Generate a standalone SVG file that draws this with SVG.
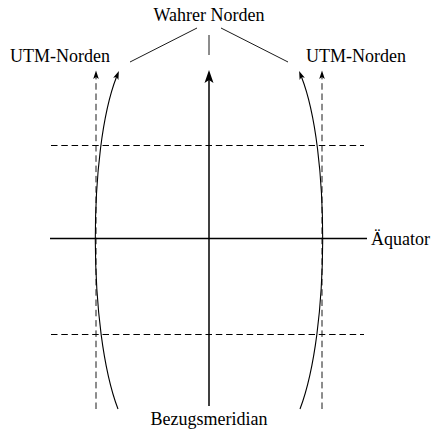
<svg xmlns="http://www.w3.org/2000/svg" width="437" height="434" viewBox="0 0 437 434">
<style>
text{font-family:"Liberation Serif","Times New Roman",serif;font-size:18px;fill:#000}
.thin{stroke:#000;stroke-width:0.9;fill:none}
.dash{stroke:#000;stroke-width:1;fill:none;stroke-dasharray:6.5 3.8}
.vdash{stroke:#000;stroke-width:0.9;fill:none;stroke-dasharray:6.5 3.8}
.curve{stroke:#000;stroke-width:1.1;fill:none}
.bold{stroke:#000;stroke-width:1.5;fill:none}
</style>
<defs>
<marker id="big" markerUnits="userSpaceOnUse" viewBox="0 -5 14 10" markerWidth="14" markerHeight="10" refX="3" refY="0" orient="auto">
<path d="M0,-4.5 L13,0 L0,4.5 L3,0 Z" fill="#000" stroke="none"/>
</marker>
<marker id="small" markerUnits="userSpaceOnUse" viewBox="0 -3 9 6" markerWidth="9" markerHeight="6" refX="2" refY="0" orient="auto">
<path d="M0,-2.8 L8.5,0 L0,2.8 L2,0 Z" fill="#000" stroke="none"/>
</marker>
</defs>
<g id="connectors">
<line class="dash" x1="51" y1="145.5" x2="364" y2="145.5"/>
<line class="dash" x1="51" y1="334.5" x2="364" y2="334.5"/>
<line class="bold" x1="50" y1="238.5" x2="367" y2="238.5"/>
<line class="vdash" x1="96" y1="409" x2="96" y2="77" marker-end="url(#small)"/>
<line class="vdash" x1="322" y1="409" x2="322" y2="77" marker-end="url(#small)"/>
<path class="curve" d="M118,409 C88,330 88,150 116.5,77" marker-end="url(#small)"/>
<path class="curve" d="M300,409 C330,330 330,150 301.5,77" marker-end="url(#small)"/>
<line class="bold" x1="209" y1="406" x2="209" y2="80" marker-end="url(#big)"/>
<line class="thin" x1="130" y1="62" x2="197" y2="28"/>
<line class="thin" x1="209" y1="35" x2="209" y2="55"/>
<line class="thin" x1="221" y1="28" x2="288" y2="62"/>
</g>
<g id="wahrer-norden"><text x="209" y="21" text-anchor="middle">Wahrer Norden</text></g>
<g id="utm-norden-left"><text x="10" y="62">UTM-Norden</text></g>
<g id="utm-norden-right"><text x="306" y="62">UTM-Norden</text></g>
<g id="aequator"><text x="371" y="245">Äquator</text></g>
<g id="bezugsmeridian"><text x="209" y="425" text-anchor="middle">Bezugsmeridian</text></g>
</svg>
